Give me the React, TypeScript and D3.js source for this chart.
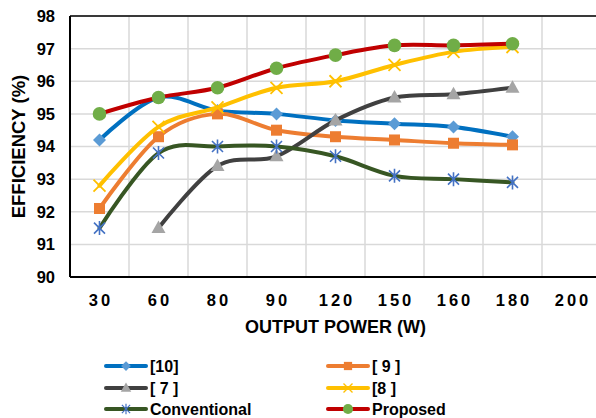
import React from 'react';
import * as d3 from 'd3';

// categories on the x axis (output power, W)
const categories = ['30', '60', '80', '90', '120', '150', '160', '180', '200'];
const yTicks = [90, 91, 92, 93, 94, 95, 96, 97, 98];

// efficiency values (%) per series, null = no point
const ref10 = [94.2, 95.5, 95.1, 95.0, 94.8, 94.7, 94.6, 94.3, null];
const ref9 = [92.1, 94.3, 95.0, 94.5, 94.3, 94.2, 94.1, 94.05, null];
const ref7 = [null, 91.5, 93.4, 93.7, 94.8, 95.5, 95.6, 95.8, null];
const ref8 = [92.8, 94.6, 95.2, 95.8, 96.0, 96.5, 96.9, 97.05, null];
const conventional = [91.5, 93.8, 94.0, 94.0, 93.7, 93.1, 93.0, 92.9, null];
const proposed = [95.0, 95.5, 95.8, 96.4, 96.8, 97.1, 97.1, 97.15, null];

type Marker = 'diamond' | 'square' | 'triangle' | 'x' | 'star' | 'circle';

const series: { label: string; values: (number | null)[]; line: string; fill: string; marker: Marker }[] = [
  { label: '[10]', values: ref10, line: '#0070C0', fill: '#5B9BD5', marker: 'diamond' },
  { label: '[ 9 ]', values: ref9, line: '#ED7D31', fill: '#ED7D31', marker: 'square' },
  { label: '[ 7 ]', values: ref7, line: '#404040', fill: '#A5A5A5', marker: 'triangle' },
  { label: '[8 ]', values: ref8, line: '#FFC000', fill: '#FFC000', marker: 'x' },
  { label: 'Conventional', values: conventional, line: '#375623', fill: '#4472C4', marker: 'star' },
  { label: 'Proposed', values: proposed, line: '#C00000', fill: '#70AD47', marker: 'circle' },
];

const W = 596;
const H = 418;
const margin = { left: 70, top: 16, right: -5, bottom: 141 };
const font = '"Liberation Sans", Arial, sans-serif';

const MarkerShape = ({ type, x, y, color, k = 1 }: { type: Marker; x: number; y: number; color: string; k?: number }) => {
  const t = `translate(${x},${y}) scale(${k})`;
  switch (type) {
    case 'diamond':
      return <path transform={t} d="M0,-6.5L6.5,0L0,6.5L-6.5,0Z" fill={color} />;
    case 'square':
      return <rect transform={t} x={-5.5} y={-5.5} width={11} height={11} fill={color} />;
    case 'triangle':
      return <path transform={t} d="M0,-7.5L7,5L-7,5Z" fill={color} />;
    case 'x':
      return <path transform={t} d="M-6,-6L6,6M6,-6L-6,6" stroke={color} strokeWidth={1.8} fill="none" />;
    case 'star':
      return <path transform={t} d="M-5.5,-5.5L5.5,5.5M5.5,-5.5L-5.5,5.5M0,-7L0,7" stroke={color} strokeWidth={1.6} fill="none" />;
    case 'circle':
      return <circle transform={t} r={6.8} fill={color} />;
  }
};

export default function App() {
  const x = d3.scaleBand<string>().domain(categories).range([margin.left, W - margin.right]).padding(0);
  const y = d3.scaleLinear().domain([90, 98]).range([H - margin.bottom, margin.top]);
  const cx = (c: string) => (x(c) ?? 0) + x.bandwidth() / 2;

  const line = d3
    .line<[string, number | null]>()
    .defined((d) => d[1] !== null)
    .x((d) => cx(d[0]))
    .y((d) => y(d[1] as number))
    .curve(d3.curveCardinal.tension(0));

  const boundaries = d3.range(categories.length + 1).map((i) => margin.left + i * x.bandwidth());
  const plotRight = W - margin.right;
  const plotBottom = H - margin.bottom;

  const legendRows = [366, 388, 409];
  const legendCols = [106, 328];

  return (
    <svg width={W} height={H} style={{ position: 'absolute', left: 0, top: 0, background: '#fff' }} fontFamily={font}>
      {/* grid */}
      {yTicks.map((t) => (
        <line key={'gy' + t} x1={margin.left} x2={plotRight} y1={y(t)} y2={y(t)} stroke="#D9D9D9" strokeWidth={1.5} />
      ))}
      {boundaries.map((b, i) => (
        <line key={'gx' + i} x1={b} x2={b} y1={margin.top} y2={plotBottom} stroke="#D9D9D9" strokeWidth={1.5} />
      ))}
      {/* plot border */}
      <line x1={margin.left} x2={plotRight} y1={margin.top} y2={margin.top} stroke="#000" strokeWidth={1.5} />
      <line x1={margin.left} x2={margin.left} y1={margin.top} y2={plotBottom} stroke="#000" strokeWidth={2} />
      <line x1={margin.left} x2={plotRight} y1={plotBottom} y2={plotBottom} stroke="#000" strokeWidth={2} />

      {/* y tick labels */}
      {yTicks.map((t) => (
        <text key={'ty' + t} x={55} y={y(t)} dy="0.36em" textAnchor="end" fontSize={16.5} fontWeight="bold" fill="#000">
          {t}
        </text>
      ))}
      {/* x tick labels */}
      {categories.map((c) => (
        <text key={'tx' + c} x={cx(c) + 1.5} y={306} textAnchor="middle" fontSize={16.5} fontWeight="bold" letterSpacing={3} fill="#000">
          {c}
        </text>
      ))}
      <text x={(margin.left + plotRight) / 2} y={333} textAnchor="middle" fontSize={18} fontWeight="bold" fill="#000">
        OUTPUT POWER (W)
      </text>
      <text
        transform={`translate(25,${(margin.top + plotBottom) / 2}) rotate(-90)`}
        textAnchor="middle"
        fontSize={18.5}
        fontWeight="bold"
        fill="#000"
      >
        EFFICIENCY (%)
      </text>

      {/* series */}
      {series.map((s) => {
        const pts = categories.map((c, i) => [c, s.values[i]] as [string, number | null]);
        return (
          <g key={s.label}>
            <path d={line(pts) ?? ''} fill="none" stroke={s.line} strokeWidth={4} strokeLinecap="round" strokeLinejoin="round" />
            {pts
              .filter((p) => p[1] !== null)
              .map((p) => (
                <MarkerShape key={p[0]} type={s.marker} x={cx(p[0])} y={y(p[1] as number)} color={s.fill} />
              ))}
          </g>
        );
      })}

      {/* legend */}
      {series.map((s, i) => {
        const lx = legendCols[i % 2];
        const ly = legendRows[Math.floor(i / 2)];
        return (
          <g key={'lg' + s.label}>
            <line x1={lx} x2={lx + 40} y1={ly} y2={ly} stroke={s.line} strokeWidth={4} strokeLinecap="round" />
            <MarkerShape type={s.marker} x={lx + 20} y={ly} color={s.fill} k={0.75} />
            <text x={lx + 44} y={ly} dy="0.36em" fontSize={16} fontWeight="bold" fill="#000">
              {s.label}
            </text>
          </g>
        );
      })}
    </svg>
  );
}
